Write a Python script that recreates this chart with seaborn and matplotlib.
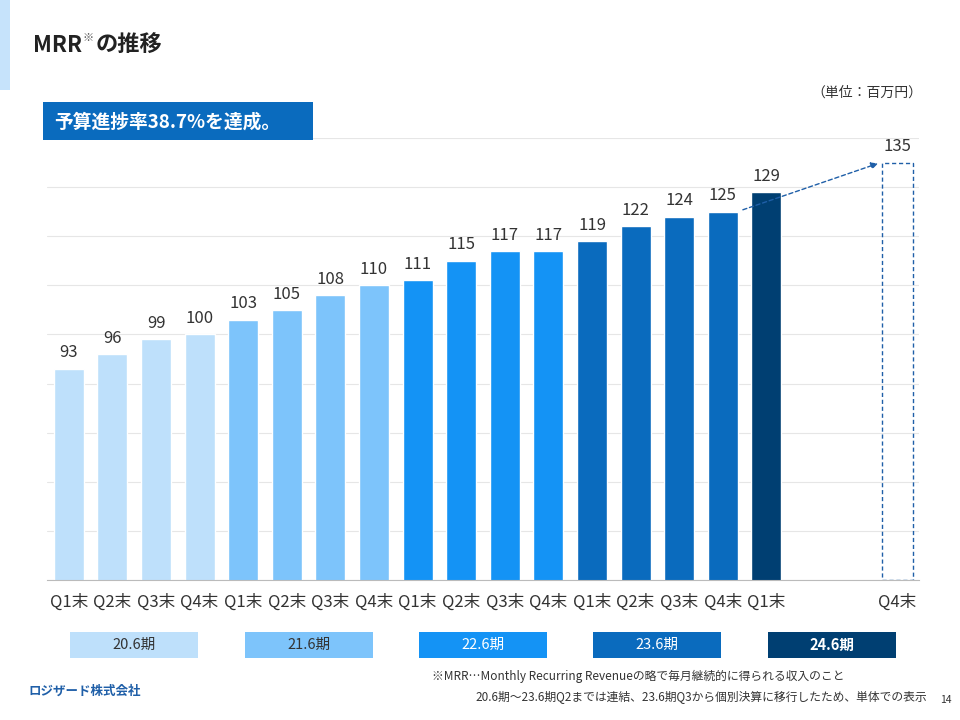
import pandas as pd
import matplotlib.pyplot as plt
import matplotlib.patches as mpatches
import matplotlib.transforms as mtrans
import seaborn as sns

sns.set_style('white')
plt.rcParams['font.family'] = ['Noto Sans CJK JP', 'DejaVu Sans']

# データ
labels = ['Q1末', 'Q2末', 'Q3末', 'Q4末'] * 4 + ['Q1末']
values = [93, 96, 99, 100, 103, 105, 108, 110, 111, 115, 117, 117, 119, 122, 124, 125, 129]
periods = ['20.6期'] * 4 + ['21.6期'] * 4 + ['22.6期'] * 4 + ['23.6期'] * 4 + ['24.6期']
target_label = 'Q4末'
target_value = 135
period_names = ['20.6期', '21.6期', '22.6期', '23.6期', '24.6期']
period_colors = ['#BEE0FB', '#7DC4FB', '#1493F5', '#0A6BBE', '#003F72']
period_text = ['#333333', '#333333', 'white', 'white', 'white']

df = pd.DataFrame({'pos': range(len(values)), 'value': values, 'period': periods})
target_pos = 19

fig = plt.figure(figsize=(9.6, 7.2), dpi=100)
ax = fig.add_axes([47 / 960, 140 / 720, 872 / 960, 442 / 720])

sns.barplot(data=df, x='pos', y='value', hue='period', palette=dict(zip(period_names, period_colors)),
            dodge=False, native_scale=True, width=0.69, legend=False, ax=ax, saturation=1)
ax.bar(target_pos, target_value - 50, bottom=50, width=0.72, fill=False, edgecolor='#1F5FA8',
       linestyle=(0, (3, 2)), linewidth=1)

for p, v in zip(df['pos'], df['value']):
    ax.text(p, v + 1.5, str(v), ha='center', va='bottom', fontsize=12, color='#333333')
ax.text(target_pos, target_value + 1.5, str(target_value), ha='center', va='bottom', fontsize=12, color='#333333')

ax.annotate('', xy=(target_pos - 0.38, target_value), xytext=(15.4, values[15] + 0.2),
            arrowprops=dict(arrowstyle='-|>', color='#1F5FA8', linestyle=(0, (3, 2)), lw=1, mutation_scale=10))

ax.set_xlim(-0.5, 19.5)
ax.set_ylim(50, 140)
ax.set_yticks(range(50, 141, 10))
ax.set_yticklabels([])
ax.yaxis.grid(True, color='#E6E6E6', linewidth=0.8)
ax.set_axisbelow(True)
ax.set_xticks(list(range(len(labels))) + [target_pos])
ax.set_xticklabels(labels + [target_label], fontsize=12, color='#333333')
ax.tick_params(axis='x', length=0, pad=10)
ax.tick_params(axis='y', length=0)
ax.set_xlabel('')
ax.set_ylabel('')
for s in ['top', 'right', 'left']:
    ax.spines[s].set_visible(False)
ax.spines['bottom'].set_color('#BBBBBB')

# 期のラベル
trans = mtrans.blended_transform_factory(ax.transData, fig.transFigure)
centers = [1.5, 5.5, 9.5, 13.5, 17.5]
for c, name, col, tc in zip(centers, period_names, period_colors, period_text):
    fig.add_artist(mpatches.Rectangle((c - 1.47, (720 - 658) / 720), 2.94, 26 / 720,
                                      transform=trans, facecolor=col, edgecolor='none'))
    fig.text(c, (720 - 645) / 720, name, transform=trans, ha='center', va='center', fontsize=10.5,
             color=tc, fontweight='bold' if c == 17.5 else 'normal')

# 見出し
fig.add_artist(mpatches.Rectangle((0, 1 - 90 / 720), 10 / 960, 90 / 720, transform=fig.transFigure,
                                  facecolor='#C6E3FB', edgecolor='none'))
fig.text(33 / 960, 1 - 45 / 720, 'MRR', fontsize=16, fontweight='bold', color='#222222', va='center')
fig.text(83 / 960, 1 - 38 / 720, '※', fontsize=8, color='#555555', va='center')
fig.text(96 / 960, 1 - 45 / 720, 'の推移', fontsize=16, fontweight='bold', color='#222222', va='center')
fig.add_artist(mpatches.Rectangle((43 / 960, 1 - 140 / 720), 270 / 960, 38 / 720, transform=fig.transFigure,
                                  facecolor='#0A6BBE', edgecolor='none'))
fig.text(54 / 960, 1 - 122 / 720, '予算進捗率38.7%を達成。', fontsize=13.5, fontweight='bold',
         color='white', va='center')
fig.text(922 / 960, 1 - 93 / 720, '（単位：百万円）', fontsize=10, color='#333333', ha='right', va='center')

# 注記
fig.text(432 / 960, 1 - 676 / 720, '※MRR…Monthly Recurring Revenueの略で毎月継続的に得られる収入のこと',
         fontsize=8.5, color='#333333', va='center')
fig.text(927 / 960, 1 - 697 / 720, '20.6期～23.6期Q2までは連結、23.6期Q3から個別決算に移行したため、単体での表示',
         fontsize=8.5, color='#333333', ha='right', va='center')
fig.text(28 / 960, 1 - 691 / 720, 'ロジザード株式会社', fontsize=9, fontweight='bold', color='#1F5FA8', va='center')
fig.text(946 / 960, 1 - 700 / 720, '14', fontsize=7.5, color='#333333', ha='center', va='center')

fig.savefig('out.png', dpi=100)
